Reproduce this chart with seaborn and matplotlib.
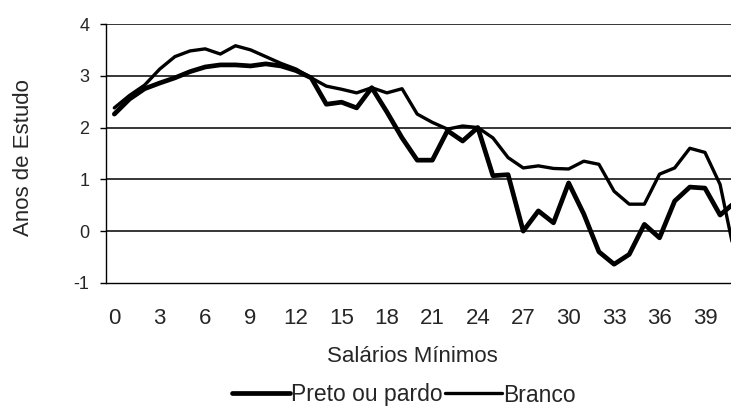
import numpy as np
import pandas as pd
import matplotlib
matplotlib.use("Agg")
import matplotlib.pyplot as plt
import seaborn as sns

# Categorias do eixo x (salarios minimos)
salarios = list(range(42))

# Anos de estudo - Preto ou pardo (linha grossa)
preto_pardo = [2.26, 2.55, 2.75, 2.86, 2.96, 3.08, 3.17, 3.21, 3.21, 3.19, 3.23, 3.19,
               3.10, 2.96, 2.45, 2.49, 2.38, 2.77, 2.30, 1.80, 1.37, 1.37, 1.94, 1.74,
               2.00, 1.07, 1.09, 0.00, 0.39, 0.16, 0.93, 0.33, -0.40, -0.64, -0.45, 0.13,
               -0.13, 0.58, 0.85, 0.83, 0.31, 0.56]

# Anos de estudo - Branco (linha fina)
branco = [2.38, 2.62, 2.82, 3.13, 3.37, 3.48, 3.52, 3.42, 3.58, 3.50, 3.37, 3.24,
          3.13, 2.96, 2.80, 2.74, 2.67, 2.77, 2.67, 2.75, 2.26, 2.10, 1.97, 2.03,
          2.00, 1.80, 1.42, 1.22, 1.26, 1.21, 1.20, 1.35, 1.29, 0.77, 0.52, 0.52,
          1.10, 1.22, 1.60, 1.52, 0.90, -0.50]

xtick_vals = list(range(0, 40, 3))
ytick_vals = [-1, 0, 1, 2, 3, 4]

sns.set_style("white")
plt.rcParams['font.family'] = ['Liberation Sans', 'DejaVu Sans']
plt.rcParams['axes.unicode_minus'] = False

fig = plt.figure(figsize=(7.31, 4.07), dpi=100)
ax = fig.add_axes([0.145, 0.305, 0.855, 0.636])

df = pd.DataFrame({"Salarios": salarios, "Preto ou pardo": preto_pardo, "Branco": branco})

# linhas de grade antes das series
for yv in ytick_vals[1:]:
    ax.axhline(yv, color='black', linewidth=1.1, zorder=1)

sns.lineplot(data=df, x="Salarios", y="Preto ou pardo", color='black', linewidth=3.4,
             label="Preto ou pardo", ax=ax, zorder=3)
sns.lineplot(data=df, x="Salarios", y="Branco", color='black', linewidth=2.4,
             label="Branco", ax=ax, zorder=3)

ax.set_xlim(-0.55, 40.72)
ax.set_ylim(-1, 4)

ax.set_xticks(xtick_vals)
ax.set_xticklabels([str(v) for v in xtick_vals], fontsize=16)
ax.set_xticks(np.arange(-0.5, 41, 1), minor=True)
ax.tick_params(axis='x', which='major', length=0, pad=18)
ax.tick_params(axis='x', which='minor', length=4, width=1, color='black', direction='out')

ax.set_yticks(ytick_vals)
ax.set_yticklabels([str(v) for v in ytick_vals], fontsize=13)
ax.tick_params(axis='y', which='major', length=4, width=1, color='black', direction='out',
               left=True, pad=8)

for side in ['top', 'right']:
    ax.spines[side].set_visible(False)
for side in ['left', 'bottom']:
    ax.spines[side].set_color('black')
    ax.spines[side].set_linewidth(1.0)

ax.set_xlabel("")
ax.set_ylabel("")

fig.text(412 / 731, 1 - 357 / 407, "Salários Mínimos", fontsize=16, ha='center', va='center')
fig.text(24 / 731, 1 - 158 / 407, "Anos de Estudo", fontsize=16, rotation=90,
         ha='center', va='center')

handles, labels = ax.get_legend_handles_labels()
ax.get_legend().remove()
fig.legend(handles, labels, loc='center', bbox_to_anchor=(404 / 731, 1 - 395 / 407),
           ncol=2, frameon=False, fontsize=16.5, handlelength=2.5, handletextpad=0.05,
           columnspacing=0.1, borderaxespad=0)

fig.savefig("out.png", dpi=100)
